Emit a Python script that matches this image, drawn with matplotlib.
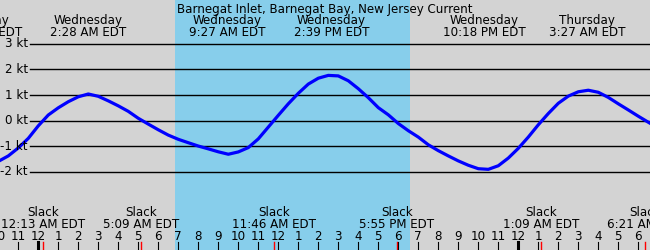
import matplotlib
matplotlib.use("Agg")
import matplotlib.pyplot as plt
import matplotlib.transforms as mtransforms

W, H = 650, 250

hours = [-2.0 + 0.5 * i for i in range(67)]
speed = [-1.59, -1.375, -1.064, -0.69, -0.20, 0.223, 0.504, 0.742, 0.934, 1.043,
         0.953, 0.775, 0.58, 0.365, 0.094, -0.133, -0.355, -0.563, -0.727, -0.86,
         -0.99, -1.10, -1.215, -1.31, -1.22, -1.05, -0.71, -0.25, 0.21, 0.66,
         1.07, 1.43, 1.66, 1.77, 1.75, 1.56, 1.25, 0.90, 0.51, 0.23,
         -0.11, -0.39, -0.64, -0.94, -1.17, -1.375, -1.57, -1.74, -1.875, -1.90,
         -1.76, -1.46, -1.08, -0.64, -0.16, 0.28, 0.68, 0.96, 1.13, 1.19,
         1.11, 0.91, 0.66, 0.42, 0.175, -0.06, -0.29]

title = "Barnegat Inlet, Barnegat Bay, New Jersey Current"
kt_levels = [3, 2, 1, 0, -1, -2]

# (day offset, day name, clock time) of max flood / ebb
max_events = [(-1, "Tuesday", "9:18 PM"),
              (0, "Wednesday", "2:28 AM"),
              (0, "Wednesday", "9:27 AM"),
              (0, "Wednesday", "2:39 PM"),
              (0, "Wednesday", "10:18 PM"),
              (1, "Thursday", "3:27 AM")]
slack_events = [(0, "12:13 AM"), (0, "5:09 AM"), (0, "11:46 AM"),
                (0, "5:55 PM"), (1, "1:09 AM"), (1, "6:21 AM")]
sunrise = 6.835
sunset = 18.585


def to_hours(day, clock):
    t, ampm = clock.split()
    hh, mm = t.split(":")
    hh = int(hh) % 12
    if ampm == "PM":
        hh += 12
    return day * 24 + hh + int(mm) / 60.0


# pixel mapping used by the original: 20 px per hour, 25.6 px per knot
x0 = -38.3 / 20
x1 = (W - 38.3) / 20
y1 = 120.7 / 25.6
y0 = -(H - 120.7) / 25.6

fig = plt.figure(figsize=(W / 100, H / 100), dpi=100)
fig.patch.set_facecolor("#d3d3d3")
ax = fig.add_axes([0, 0, 1, 1])
ax.set_facecolor("#d3d3d3")
ax.set_xlim(x0, x1)
ax.set_ylim(y0, y1)
ax.axis("off")

fs = 8.6
font = "DejaVu Sans"
trans_top = mtransforms.blended_transform_factory(ax.transData, fig.transFigure)


def py(p):
    return 1 - p / H


ax.axvspan(sunrise, sunset, color="#87ceeb", lw=0, zorder=0)

for k in kt_levels:
    ax.axhline(k, xmin=30 / W, xmax=1, color="black", lw=1.0, zorder=1)
    ax.text(28 / W, k, "%d kt" % k, transform=ax.get_yaxis_transform(),
            ha="right", va="center", fontsize=fs, family=font, zorder=5)

ax.plot(hours, speed, color="#0000ff", lw=2.3, zorder=3,
        solid_capstyle="round", solid_joinstyle="round")

fig.text(0.5, py(12.5), title, ha="center", va="baseline", fontsize=fs, family=font)

for day, name, clock in max_events:
    h = to_hours(day, clock)
    ax.text(h, py(24.3), name, transform=trans_top, ha="center", va="baseline",
            fontsize=fs, family=font)
    ax.text(h, py(36), clock + " EDT", transform=trans_top, ha="center",
            va="baseline", fontsize=fs, family=font)

for day, clock in slack_events:
    h = to_hours(day, clock)
    ax.text(h, py(216), "Slack", transform=trans_top, ha="center", va="baseline",
            fontsize=fs, family=font)
    ax.text(h, py(227.7), clock + " EDT", transform=trans_top, ha="center",
            va="baseline", fontsize=fs, family=font)
    ax.axvline(h, ymin=0, ymax=(H - 241.7) / H, color="red", lw=1.0, zorder=2)

for h in range(-2, 31):
    lbl = str((h - 1) % 12 + 1)
    ax.text(h, py(240), lbl, transform=trans_top, ha="center", va="baseline",
            fontsize=fs, family=font)
    lw = 2.2 if h % 24 == 0 else 0.8
    ax.axvline(h - (0.03 if h % 24 == 0 else 0), ymin=0, ymax=(H - 241.7) / H,
               color="black", lw=lw, zorder=2)

fig.savefig("out.png", dpi=100, facecolor=fig.get_facecolor())
